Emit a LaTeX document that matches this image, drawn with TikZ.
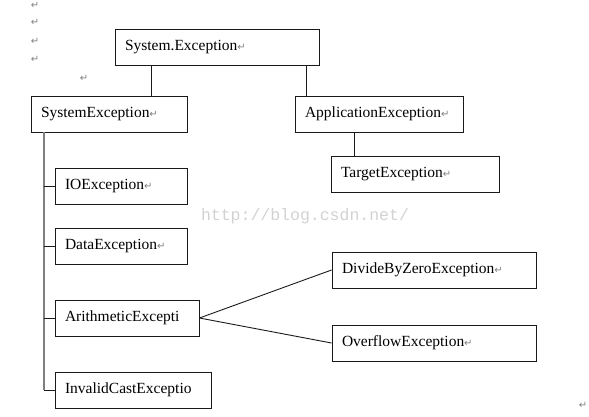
\documentclass[tikz,border=0pt]{standalone}
\usepackage{fontspec}
\setmainfont{Liberation Serif}
\newfontfamily\markfont{DejaVu Sans}
\newfontfamily\wmfont{Liberation Mono}
\usepackage{xcolor}
\definecolor{exLine}{HTML}{1A1A1A}
\definecolor{exGray}{HTML}{7F7F7F}
\definecolor{exMark}{HTML}{808080}
\definecolor{exWater}{HTML}{D2D2D2}
\usetikzlibrary{positioning,calc}
\newcommand{\ret}{{\markfont\fontsize{10}{10}\selectfont\color{exMark}↵}}
\newcommand{\exbox}[4]{%
 \node[draw=exLine, line width=0.9pt, minimum height=36pt, inner xsep=10pt, inner ysep=0pt, text width=#4, align=left, font=\fontsize{15.5}{18}\selectfont] (#2) at (#1) {#3};}

\begin{document}
\begin{tikzpicture}[x=1pt, y=-1pt]
\useasboundingbox (0,0) rectangle (589,416);
% stray paragraph marks
\foreach \yy [count=\i] in {5,22,41,59}
 \node[inner sep=0pt] (pm\i) at (35,\yy) {\ret};
\node[inner sep=0pt] (pm5) at (84,78) {\ret};
\node[inner sep=0pt] (pm6) at (583,405) {\ret};
% watermark
\node[inner sep=0pt, text=exWater, font=\wmfont\fontsize{16.5}{18}\selectfont] (wm) at (305,216) {http://blog.csdn.net/};
% boxes
\exbox{217,47}{sysex}{System.Exception\ret}{184pt}
\exbox{109,114}{system}{SystemException\ret}{136pt}
\exbox{379,114}{appex}{ApplicationException\ret}{148pt}
\exbox{415,174}{target}{TargetException\ret}{148pt}
\exbox{121,186}{io}{IOException\ret}{112pt}
\exbox{121,246}{data}{DataException\ret}{112pt}
\exbox{127,318}{arith}{ArithmeticExcepti}{124pt}
\exbox{133,390}{invalid}{InvalidCastExceptio}{136pt}
\exbox{434,270}{divzero}{DivideByZeroException\ret}{184pt}
\exbox{434,343}{overflow}{OverflowException\ret}{184pt}
% tree lines
\draw[exLine, line width=0.9pt] (sysex.south -| system.north east) ++(-36,0) coordinate (s1) -- (s1 |- system.north);
\draw[exLine, line width=0.9pt] (sysex.south -| appex.north west) ++(12,0) coordinate (s2) -- (s2 |- appex.north);
\draw[exLine, line width=0.9pt] (appex.south west) ++(60,0) coordinate (s3) -- (s3 |- target.north);
\coordinate (trunk) at ($(system.south west)+(13,0)$);
\draw[exGray, line width=2pt] (trunk) -- (trunk |- invalid.west);
\foreach \n in {io,data,arith,invalid}
 \draw[exLine, line width=0.9pt] (trunk |- \n.west) -- (\n.west);
\draw[exLine, line width=0.9pt] (arith.east) -- (divzero.west);
\draw[exLine, line width=0.9pt] (arith.east) -- (overflow.west);
\end{tikzpicture}
\end{document}
